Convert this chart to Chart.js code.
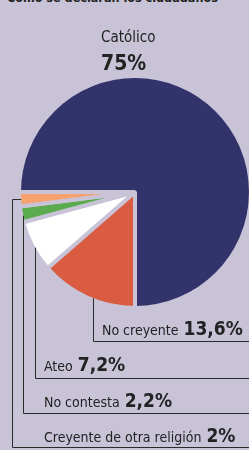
<!DOCTYPE html>
<html>
<head>
<meta charset="utf-8">
<script src="https://cdn.jsdelivr.net/npm/chart.js@4"></script>
<style>
    html, body {
        margin: 0;
        padding: 0;
        width: 249px;
        height: 450px;
        overflow: hidden;
        background: #c9c3d7;
        font-family: "DejaVu Sans Condensed", "DejaVu Sans", sans-serif;
        color: #222;
    }
    #grafico {
        position: absolute;
        left: 0;
        top: 0;
    }
    .etiqueta {
        position: absolute;
        white-space: nowrap;
        line-height: 20px;
        font-size: 14px;
    }
    .etiqueta b {
        font-size: 19px;
        margin-left: 5px;
    }
    #titulo {
        position: absolute;
        left: 7px;
        top: -12px;
        font-size: 12.5px;
        font-weight: bold;
        line-height: 20px;
        white-space: nowrap;
    }
</style>
</head>
<body>
<div id="titulo">Cómo se declaran los ciudadanos</div>
<canvas id="grafico" width="249" height="450"></canvas>
<script>
const categorias = ['Católico', 'No creyente', 'Ateo', 'No contesta', 'Creyente de otra religión'];
const valores = [75, 13.6, 7.2, 2.2, 2];
const colores = ['#32336b', '#d95c42', '#ffffff', '#5aaa4e', '#f5a26f'];

// posicion de las etiquetas y lineas guia (x de la vertical, y de la horizontal, x del texto, linea base)
const guiaX = [null, 93, 35, 23, 12];
const guiaY = [null, 341, 378, 413, 447];
const textoX = [101, 102, 44, 44, 44];
const textoBase = [42, 335, 371, 407, 442];

function formatear(v) {
    return String(v).replace('.', ',') + '%';
}

function ponerEtiquetas() {
    categorias.forEach((cat, i) => {
        let div = document.createElement('div');
        div.className = 'etiqueta';
        div.style.left = textoX[i] + 'px';
        if (i === 0) {
            div.innerHTML = `<span style="font-size:15px">${cat}</span><br><b style="font-size:21px;margin-left:0">${formatear(valores[i])}</b>`;
            div.style.lineHeight = '26px';
            div.style.top = (textoBase[i] - 18) + 'px';
        } else {
            div.innerHTML = `<span>${cat}</span><b>${formatear(valores[i])}</b>`;
            div.style.top = (textoBase[i] - 17) + 'px';
        }
        document.body.appendChild(div);
    });
}

const lineasGuia = {
    id: 'lineasGuia',
    afterDraw(chart) {
        let ctx = chart.ctx;
        let meta = chart.getDatasetMeta(0);
        ctx.save();
        ctx.strokeStyle = '#2a2a2a';
        ctx.lineWidth = 1;
        for (let i = 1; i < meta.data.length; i++) {
            let arco = meta.data[i];
            let r = arco.outerRadius - 2;
            let x = guiaX[i] + 0.5;
            let y = guiaY[i] + 0.5;
            ctx.beginPath();
            if (Math.abs(x - arco.x) < r) {
                let y0 = arco.y + Math.sqrt(r * r - (x - arco.x) * (x - arco.x));
                ctx.moveTo(x, y0);
            } else {
                let medio = (arco.startAngle + arco.endAngle) / 2;
                let py = Math.round(arco.y + r * Math.sin(medio)) + 0.5;
                ctx.moveTo(arco.x + r * Math.cos(medio), py);
                ctx.lineTo(x, py);
            }
            ctx.lineTo(x, y);
            ctx.lineTo(chart.width, y);
            ctx.stroke();
        }
        ctx.restore();
    }
};

new Chart(document.getElementById('grafico').getContext('2d'), {
    type: 'pie',
    data: {
        labels: categorias,
        datasets: [{
            data: valores,
            backgroundColor: colores,
            borderColor: '#c9c3d7',
            borderWidth: 4,
            hoverOffset: 0
        }]
    },
    options: {
        responsive: false,
        animation: false,
        rotation: -90,
        radius: 116,
        layout: {
            padding: {left: 21, right: 0, top: 78, bottom: 144}
        },
        plugins: {
            legend: {display: false},
            tooltip: {enabled: false}
        }
    },
    plugins: [lineasGuia]
});

ponerEtiquetas();
</script>
</body>
</html>
